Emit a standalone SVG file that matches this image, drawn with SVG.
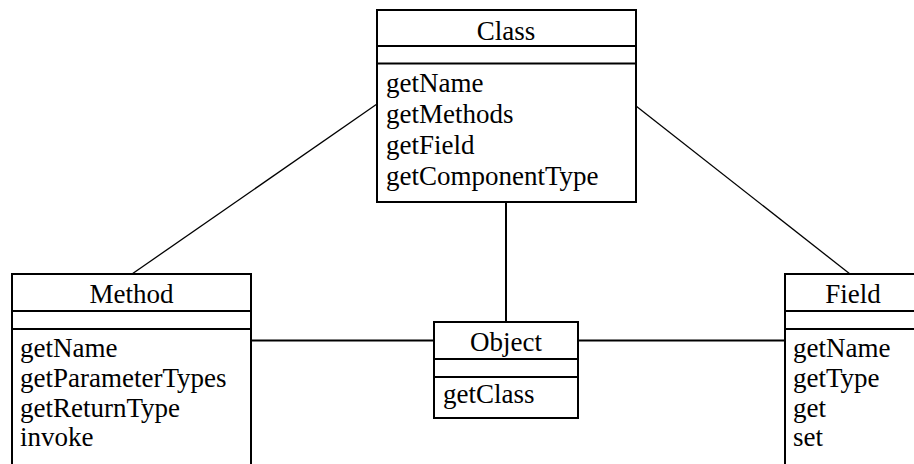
<svg xmlns="http://www.w3.org/2000/svg" width="914" height="464" viewBox="0 0 914 464">
<style>
  .box { fill: #fff; stroke: #000; stroke-width: 2; }
  .div { stroke: #000; stroke-width: 2; }
  .conn { stroke: #000; stroke-width: 2; fill: none; }
  .diag { stroke: #000; stroke-width: 1.3; fill: none; }
  text { font-family: "Liberation Serif", "Times New Roman", serif; font-size: 27px; fill: #000; }
  .title { text-anchor: middle; }
</style>
<rect x="0" y="0" width="914" height="464" fill="#fff"/>
<g id="connectors">
  <line class="diag" x1="377" y1="104" x2="132" y2="274"/>
  <line class="diag" x1="636" y1="106" x2="850" y2="274"/>
  <line class="conn" x1="506" y1="202" x2="506" y2="322"/>
  <line class="conn" x1="251" y1="340.5" x2="434" y2="340.5"/>
  <line class="conn" x1="578" y1="340.5" x2="785" y2="340.5"/>
</g>
<g id="class">
  <rect class="box" x="377" y="10" width="259" height="192"/>
  <line class="div" x1="377" y1="46" x2="636" y2="46"/>
  <line class="div" x1="377" y1="63.5" x2="636" y2="63.5"/>
  <text class="title" x="506" y="40">Class</text>
  <text x="386" y="92">getName</text>
  <text x="386" y="123">getMethods</text>
  <text x="386" y="154">getField</text>
  <text x="386" y="185">getComponentType</text>
</g>
<g id="method">
  <rect class="box" x="12" y="274" width="239" height="210"/>
  <line class="div" x1="12" y1="311" x2="251" y2="311"/>
  <line class="div" x1="12" y1="329" x2="251" y2="329"/>
  <text class="title" x="131.5" y="303">Method</text>
  <text x="20" y="357">getName</text>
  <text x="20" y="387">getParameterTypes</text>
  <text x="20" y="416.5">getReturnType</text>
  <text x="20" y="446">invoke</text>
</g>
<g id="object">
  <rect class="box" x="434" y="322" width="144" height="96"/>
  <line class="div" x1="434" y1="359" x2="578" y2="359"/>
  <line class="div" x1="434" y1="377" x2="578" y2="377"/>
  <text class="title" x="506" y="351">Object</text>
  <text x="443" y="403">getClass</text>
</g>
<g id="field">
  <rect class="box" x="785" y="274" width="136" height="210"/>
  <line class="div" x1="785" y1="311" x2="921" y2="311"/>
  <line class="div" x1="785" y1="329" x2="921" y2="329"/>
  <text class="title" x="853" y="303">Field</text>
  <text x="793" y="357">getName</text>
  <text x="793" y="387">getType</text>
  <text x="793" y="416.5">get</text>
  <text x="793" y="446">set</text>
</g>
</svg>
